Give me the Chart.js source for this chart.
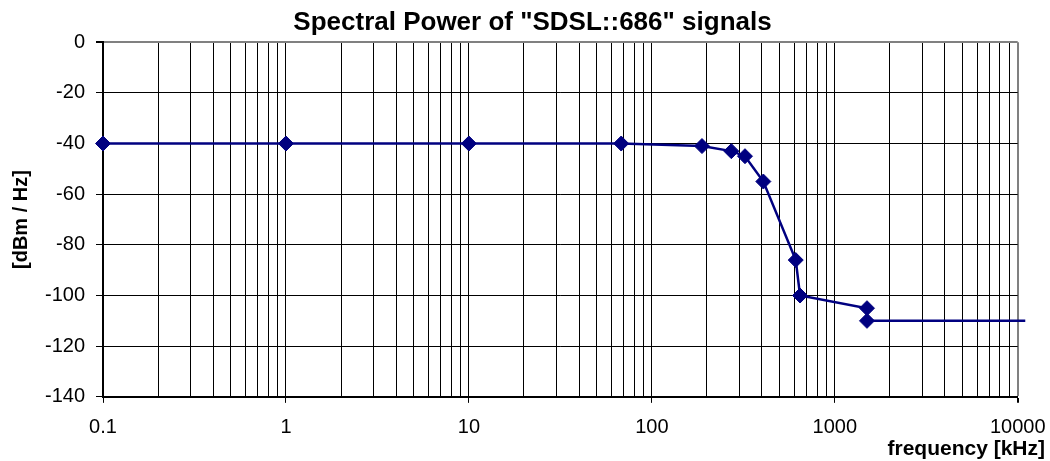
<!DOCTYPE html>
<html>
<head>
<meta charset="utf-8">
<script src="https://cdn.jsdelivr.net/npm/chart.js@4/dist/chart.umd.min.js"></script>
<style>
    html, body { margin: 0; padding: 0; background: #fff; }
    #wrap { width: 1050px; height: 461px; }
</style>
</head>
<body>
<div id="wrap"><canvas id="psd_chart" width="1050" height="461"></canvas></div>
<script>
// values (kHz / dBm per Hz)
const frequencies = [0.1, 1, 10, 68, 188, 272, 323, 407, 612, 646, 1500, 1500, 11000]
const power_dbm = [-40, -40, -40, -40, -41, -43, -45, -55, -86, -100, -105, -110, -110]
const decades = [0.1, 1, 10, 100, 1000, 10000]
const y_ticks = [0, -20, -40, -60, -80, -100, -120, -140]

const chart_title = 'Spectral Power of "SDSL::686" signals'
const x_title = 'frequency [kHz]'
const y_title = '[dBm / Hz]'

const font_family = "Arial, 'Liberation Sans', sans-serif"
const navy = '#000080'

const x_min = decades[0]
const x_max = decades[decades.length - 1]

// gridlines at 1..9 of every decade
let grid_values = []
decades.slice(0, -1).forEach(d => {
    for (let m = 1; m <= 9; m++) {
        grid_values.push(+(d * m).toPrecision(6))
    }
})
grid_values.push(x_max)

function is_decade(v) {
    return decades.includes(v)
}

const canvas_chart = document.getElementById('psd_chart')

new Chart(canvas_chart, {
    type: 'line',
    data: {
        datasets: [{
            data: frequencies.map((f, i) => ({ x: f, y: power_dbm[i] })),
            borderColor: navy,
            backgroundColor: navy,
            borderWidth: 2.5,
            tension: 0,
            pointStyle: 'rectRot',
            pointRadius: ctx => (ctx.raw && ctx.raw.x > x_max) ? 0 : 7.5,
            pointHoverRadius: ctx => (ctx.raw && ctx.raw.x > x_max) ? 0 : 7.5,
            pointBorderWidth: 1,
            pointBorderColor: navy,
            pointBackgroundColor: navy,
            clip: false
        }]
    },
    options: {
        responsive: false,
        animation: false,
        layout: { padding: { left: 20, right: 5, top: 0, bottom: 0 } },
        plugins: {
            legend: { display: false },
            tooltip: { enabled: false },
            title: {
                display: true,
                text: chart_title,
                color: '#000',
                font: { family: font_family, size: 26, weight: 'bold', lineHeight: 1.2 },
                padding: { top: 7, bottom: 4 }
            },
            subtitle: {
                display: true,
                position: 'bottom',
                align: 'end',
                text: x_title,
                color: '#000',
                font: { family: font_family, size: 21, weight: 'bold', lineHeight: 1.15 },
                padding: { top: 0, bottom: 0 }
            }
        },
        scales: {
            x: {
                type: 'logarithmic',
                min: x_min,
                max: x_max,
                afterBuildTicks: scale => {
                    scale.ticks = grid_values.map(v => ({ value: v, major: is_decade(v) }))
                },
                afterFit: scale => {
                    scale.height = 40
                    scale.paddingRight = 32.3
                },
                ticks: {
                    autoSkip: false,
                    maxRotation: 0,
                    color: '#000',
                    padding: 13,
                    font: { family: font_family, size: 20 },
                    callback: v => is_decade(v) ? String(v) : ''
                },
                grid: {
                    color: ctx => (ctx.tick && ctx.tick.value === x_max) ? '#808080' : '#000',
                    lineWidth: ctx => (ctx.tick && ctx.tick.value === x_max) ? 2 : 1,
                    tickColor: ctx => (ctx.tick && is_decade(ctx.tick.value)) ? '#000' : 'rgba(0,0,0,0)',
                    tickLength: 6
                },
                border: { color: '#000', width: 2 }
            },
            y: {
                min: -140,
                max: 0,
                afterBuildTicks: scale => {
                    scale.ticks = y_ticks.map(v => ({ value: v }))
                },
                afterFit: scale => {
                    scale.width = 83
                },
                ticks: {
                    color: '#000',
                    padding: 11,
                    font: { family: font_family, size: 20 }
                },
                grid: {
                    color: ctx => (ctx.tick && ctx.tick.value === 0) ? '#808080' : '#000',
                    lineWidth: ctx => (ctx.tick && ctx.tick.value === 0) ? 2 : 1,
                    tickColor: '#000',
                    tickLength: 7
                },
                border: { color: '#000', width: 2 },
                title: {
                    display: true,
                    text: y_title,
                    color: '#000',
                    font: { family: font_family, size: 20, weight: 'bold', lineHeight: 1.2 },
                    padding: { top: -11, bottom: 0 }
                }
            }
        }
    }
})
</script>
</body>
</html>
